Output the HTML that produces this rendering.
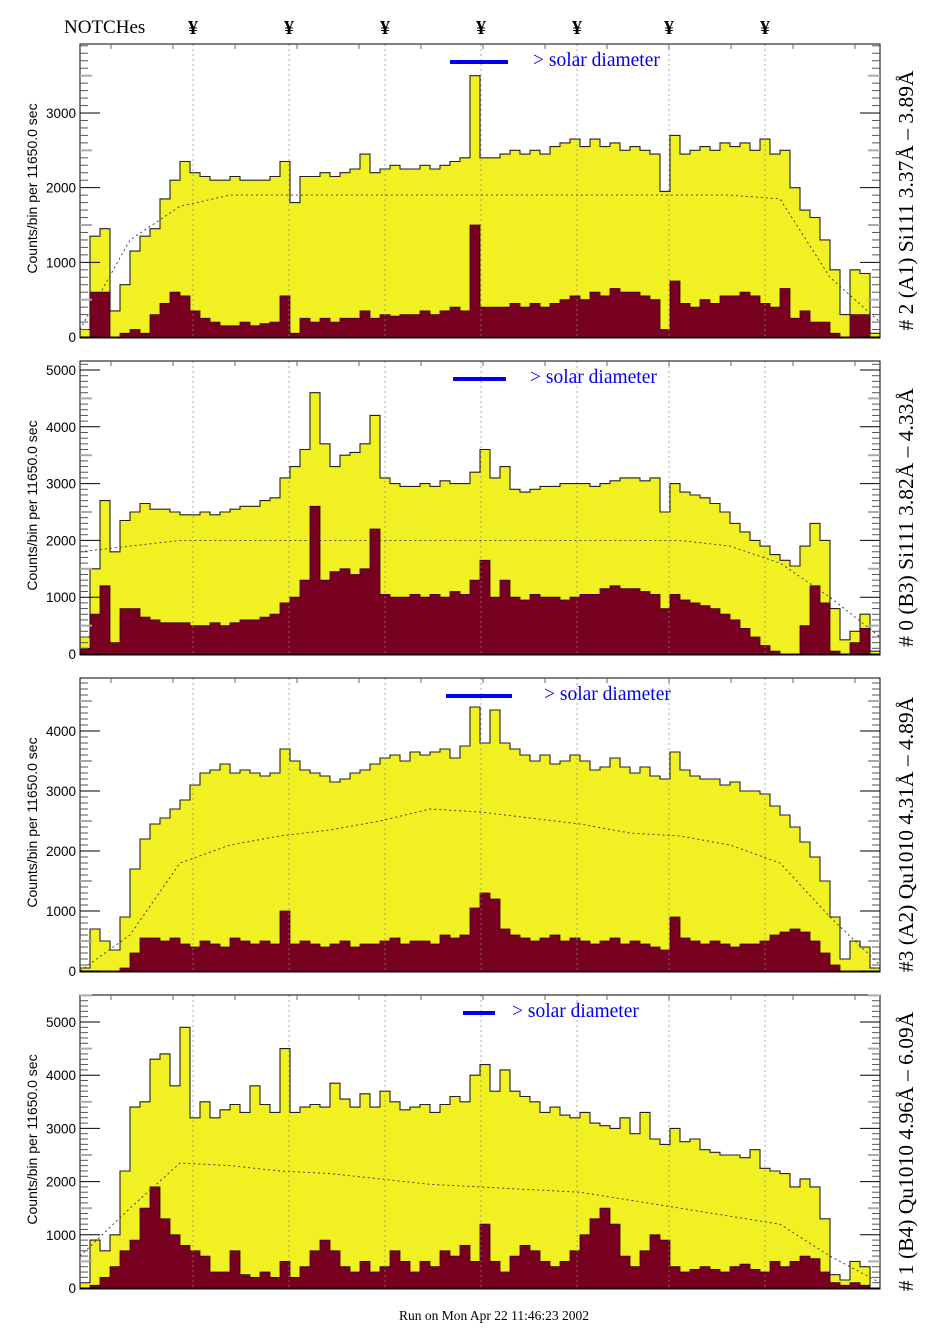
<!DOCTYPE html>
<html><head><meta charset="utf-8"><style>
html,body{margin:0;padding:0;background:#fff;}
svg{display:block;}
</style></head><body>
<svg id="chart" width="943" height="1328" viewBox="0 0 943 1328" xmlns="http://www.w3.org/2000/svg">
<text x="64" y="33" font-family="Liberation Serif, serif" font-size="19">NOTCHes</text>
<g id="notch-marks"></g>
<g id="panels"></g>
<text x="494" y="1320" text-anchor="middle" font-family="Liberation Serif, serif" font-size="13.5">Run on Mon Apr 22 11:46:23 2002</text>
</svg>
<script>
// ---- data (80 bins, 10 px each, x from 80 to 880) ----
const binStart = 80;
const notchXs = [193, 289, 385, 481, 577, 669, 765];
const p1Total = [100,1350,1450,350,700,1150,1350,1450,1850,2100,2350,2200,2150,2100,2100,2150,2100,2100,2100,2150,2350,1800,2150,2150,2200,2150,2200,2250,2450,2200,2250,2300,2250,2250,2300,2250,2300,2350,2400,3500,2400,2400,2450,2500,2450,2500,2450,2550,2600,2650,2550,2650,2550,2600,2500,2550,2500,2450,1950,2700,2450,2500,2550,2500,2600,2550,2600,2500,2650,2450,2500,2000,1700,1600,1300,900,300,900,850,50];
const p1Line = [0,600,600,0,50,100,50,300,450,600,550,350,250,200,150,150,200,150,180,200,550,50,250,200,250,200,250,250,350,250,300,280,300,300,350,300,350,400,350,1500,400,400,400,450,400,450,400,450,500,550,500,600,550,650,600,600,550,500,100,750,450,400,500,450,550,550,600,550,450,400,650,250,350,200,200,50,0,300,300,0];
const p1Model = [100,1300,1750,1900,1900,1900,1900,1900,1900,1900,1900,1900,1900,1900,1850,800,200];
const p2Total = [300,1500,2700,1800,2350,2500,2650,2550,2550,2500,2450,2450,2500,2450,2500,2550,2600,2600,2700,2750,3100,3300,3600,4600,3700,3300,3500,3550,3700,4200,3100,3000,2950,2950,3000,2950,3050,3000,3000,3200,3600,3100,3300,2900,2850,2900,2950,2950,3000,3000,3000,2950,3000,3050,3100,3100,3050,3100,2500,3000,2850,2800,2750,2650,2500,2300,2150,2000,1900,1750,1650,1550,1900,2300,2000,800,250,400,700,50];
const p2Line = [100,700,1200,200,800,800,650,600,550,550,550,500,500,550,500,550,600,600,650,700,900,1000,1300,2600,1300,1450,1500,1400,1500,2200,1050,1000,1000,1050,1000,1050,1000,1100,1050,1300,1650,1000,1300,1000,950,1050,1000,1000,950,1000,1050,1050,1150,1200,1150,1150,1100,1050,800,1050,950,900,850,800,700,600,450,300,150,50,0,0,500,1200,900,50,0,200,450,0];
const p2Model = [1800,1900,2000,2000,2000,2000,2000,2000,2000,2000,2000,2000,2000,1900,1600,1000,300];
const p3Total = [50,700,500,350,900,1700,2200,2450,2550,2700,2850,3100,3300,3350,3450,3300,3350,3300,3250,3300,3700,3500,3350,3300,3250,3150,3200,3300,3350,3450,3550,3600,3500,3650,3600,3650,3700,3550,3750,4400,3800,4350,3800,3700,3600,3500,3600,3450,3500,3600,3500,3350,3400,3550,3400,3300,3400,3250,3200,3650,3350,3250,3200,3200,3100,3150,3000,3000,2950,2750,2600,2400,2150,1900,1500,900,200,500,400,50];
const p3Line = [0,0,0,0,50,300,550,550,500,550,450,400,500,450,400,550,500,450,500,450,1000,450,500,450,400,450,500,400,450,450,500,550,450,500,500,450,600,550,600,1050,1300,1200,700,600,550,500,550,600,500,550,500,450,500,550,450,500,450,400,350,900,550,500,450,500,450,400,450,450,500,600,650,700,650,500,300,100,0,0,0,0];
const p3Model = [0,600,1800,2100,2250,2350,2500,2700,2650,2550,2450,2300,2250,2100,1800,900,100];
const p4Total = [100,900,700,1000,2200,3400,3500,4300,4400,3800,4900,3200,3500,3200,3350,3450,3300,3800,3450,3300,4500,3300,3400,3450,3400,3850,3550,3400,3650,3400,3700,3500,3350,3400,3450,3300,3450,3600,3500,4000,4200,3700,4100,3700,3600,3500,3300,3400,3250,3200,3300,3100,3050,3000,3200,2900,3300,2800,2700,3000,2750,2800,2600,2550,2500,2500,2450,2600,2250,2200,2150,1900,2050,1900,1300,250,150,500,400,0];
const p4Line = [0,50,200,400,700,900,1500,1900,1300,1000,800,700,600,300,300,700,250,200,300,200,500,200,400,700,900,700,400,300,500,300,400,700,500,300,500,400,700,600,800,500,1200,500,300,600,800,700,500,400,500,700,1000,1300,1500,1200,600,400,700,1000,900,400,300,350,400,350,300,400,450,350,300,500,400,500,600,550,300,100,50,100,50,0];
const p4Model = [600,1500,2350,2300,2200,2150,2050,1950,1900,1850,1800,1650,1500,1350,1200,600,100];
const p1Ticks = [0,1000,2000,3000];
const p2Ticks = [0,1000,2000,3000,4000,5000];
const p3Ticks = [0,1000,2000,3000,4000];
const p4Ticks = [0,1000,2000,3000,4000,5000];
const panelTitles = ["# 2 (A1) Si111  3.37Å – 3.89Å","# 0 (B3) Si111  3.82Å – 4.33Å","#3 (A2) Qu1010  4.31Å – 4.89Å","# 1 (B4) Qu1010 4.96Å – 6.09Å"];

// ---- layout ----
const NS = "http://www.w3.org/2000/svg";
const X0 = 80, X1 = 880, BW = 10;
const layouts = [
  {top:44, zero:337, k:224/3000, ymax:3900, bar:[450,508], txt:533},
  {top:361, zero:654, k:284/5000, ymax:5150, bar:[453,506], txt:530},
  {top:678, zero:971, k:240/4000, ymax:4880, bar:[446,512], txt:544},
  {top:995, zero:1288, k:266/5000, ymax:5500, bar:[463,495], txt:512}
];
const series = [
  [p1Total,p1Line,p1Model,p1Ticks],
  [p2Total,p2Line,p2Model,p2Ticks],
  [p3Total,p3Line,p3Model,p3Ticks],
  [p4Total,p4Line,p4Model,p4Ticks]
];
function mk(tag, attrs, parent){const e=document.createElementNS(NS,tag);for(const a in attrs)e.setAttribute(a,attrs[a]);parent.appendChild(e);return e;}

const notchG = document.getElementById('notch-marks');
notchXs.forEach(x=>{
  const t = mk('text',{x:x,y:34,'text-anchor':'middle','font-family':'Liberation Serif, serif','font-size':'20','font-weight':'bold'},notchG);
  t.textContent='¥';
  
  
});

const panelsG = document.getElementById('panels');
layouts.forEach((L,pi)=>{
  const [tot,line,model,ticks] = series[pi];
  const xs = i => binStart + i*BW;
  const ys = v => L.zero - v*L.k;
  const g = mk('g',{},panelsG);
  
  
  const clipId='clip'+pi;
  const cp = mk('clipPath',{id:clipId},g);
  mk('rect',{x:X0,y:L.top,width:X1-X0,height:L.zero-L.top+1},cp);
  const plot = mk('g',{'clip-path':'url(#'+clipId+')'},g);
  function stepPath(arr){
    let d='M'+xs(0)+','+L.zero;
    arr.forEach((v,i)=>{d+=' L'+xs(i)+','+ys(v).toFixed(1)+' L'+xs(i+1)+','+ys(v).toFixed(1);});
    d+=' L'+xs(arr.length)+','+L.zero+' Z';
    return d;
  }
  const yp = mk('path',{d:stepPath(tot),fill:'#f0f022',stroke:'#222',"stroke-width":'1.1'},plot);
  
  
  const rp = mk('path',{d:stepPath(line),fill:'#780020',stroke:'#3a0010',"stroke-width":'0.8'},plot);
  
  
  let md='';
  model.forEach((v,i)=>{md+=(i?' L':'M')+(binStart+i*50)+','+ys(v).toFixed(1);});
  const mp = mk('path',{d:md,fill:'none',stroke:'#333','stroke-width':'0.9','stroke-dasharray':'2,3'},plot);
  
  
  notchXs.forEach(x=>{
    const l = mk('line',{x1:x,x2:x,y1:L.top,y2:L.zero,stroke:'#888','stroke-width':'0.7','stroke-dasharray':'2,3'},plot);
    
    
  });
  const fr = mk('rect',{x:X0,y:L.top,width:X1-X0,height:L.zero-L.top+1,fill:'none',stroke:'#000','stroke-width':'1'},g);
  
  
  for(let v=0; v<=L.ymax; v+=100){
    const y=ys(v); if(y<L.top) break;
    const major = v%1000===0, half = v%500===0;
    const len = major?20:(half?12:8);
    const col = major?'#000':(half?'#aaa':'#555');
    const sw = half&&!major?2:1;
    mk('line',{x1:X0,x2:X0+len,y1:y,y2:y,stroke:col,'stroke-width':sw},g);
    mk('line',{x1:X1,x2:X1-len,y1:y,y2:y,stroke:col,'stroke-width':sw},g);
  }
  for(let x=X0+31; x<X1; x+=62){
    mk('line',{x1:x,x2:x,y1:L.top,y2:L.top+5,stroke:'#666','stroke-width':'1'},g);
  }
  ticks.forEach(v=>{
    const t = mk('text',{x:76,y:ys(v)+5,'text-anchor':'end','font-family':'Liberation Sans, sans-serif','font-size':'13.5'},g);
    t.textContent=v;
    
    
  });
  const cy=(L.top+L.zero)/2;
  const yt = mk('text',{x:0,y:0,transform:'translate(37,'+(cy-2)+') rotate(-90)','text-anchor':'middle','font-family':'Liberation Sans, sans-serif','font-size':'14'},g);
  yt.textContent='Counts/bin per  11650.0 sec';
  
  
  const tt = mk('text',{x:0,y:0,transform:'translate(913,'+(cy+10)+') rotate(-90)','text-anchor':'middle','font-family':'Liberation Serif, serif','font-size':'21.5'},g);
  tt.textContent=panelTitles[pi];
  
  
  const bar = mk('rect',{x:L.bar[0],y:L.top+16,width:L.bar[1]-L.bar[0],height:4,fill:'#0000ee'},g);
  
  
  const st = mk('text',{x:L.txt,y:L.top+22,'font-family':'Liberation Serif, serif','font-size':'19.5',fill:'#0000ee'},g);
  st.textContent='> solar diameter';
  
  
});
</script>
</body></html>
